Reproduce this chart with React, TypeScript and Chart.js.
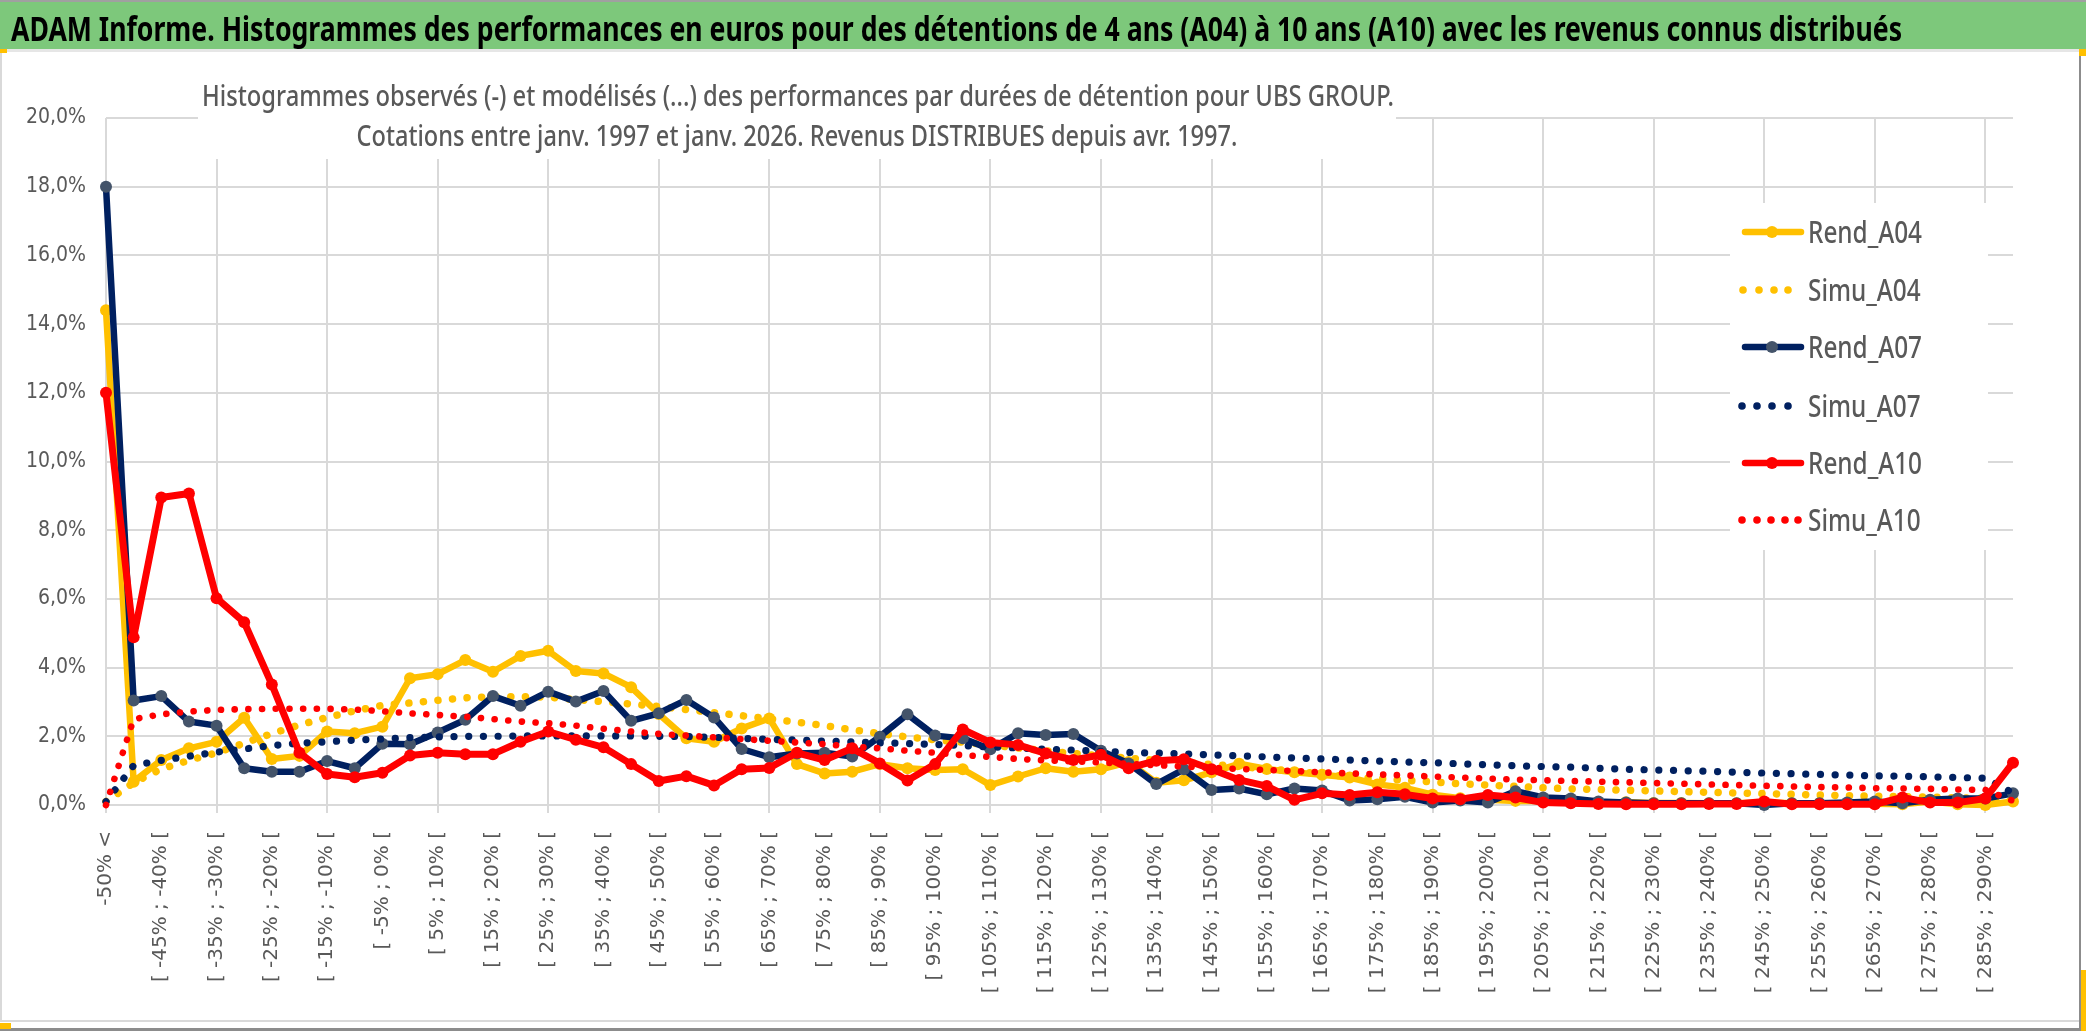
import { useEffect, useRef } from 'react';
import { Chart, registerables } from 'chart.js';

Chart.register(...registerables);

const W = 2086;
const H = 1031;

const headerTitle =
  'ADAM Informe. Histogrammes des performances en euros pour des détentions de 4 ans (A04) à 10 ans (A10) avec les revenus connus distribués';
const subtitle1 =
  'Histogrammes observés (-) et modélisés (...) des performances par durées de détention pour UBS GROUP.';
const subtitle2 =
  'Cotations entre janv. 1997 et janv. 2026. Revenus DISTRIBUES depuis avr. 1997.';

const categories = [
  '-50% <', '[ -50% ; -45% [', '[ -45% ; -40% [', '[ -40% ; -35% [', '[ -35% ; -30% [',
  '[ -30% ; -25% [', '[ -25% ; -20% [', '[ -20% ; -15% [', '[ -15% ; -10% [', '[ -10% ; -5% [',
  '[ -5% ; 0% [', '[ 0% ; 5% [', '[ 5% ; 10% [', '[ 10% ; 15% [', '[ 15% ; 20% [',
  '[ 20% ; 25% [', '[ 25% ; 30% [', '[ 30% ; 35% [', '[ 35% ; 40% [', '[ 40% ; 45% [',
  '[ 45% ; 50% [', '[ 50% ; 55% [', '[ 55% ; 60% [', '[ 60% ; 65% [', '[ 65% ; 70% [',
  '[ 70% ; 75% [', '[ 75% ; 80% [', '[ 80% ; 85% [', '[ 85% ; 90% [', '[ 90% ; 95% [',
  '[ 95% ; 100% [', '[ 100% ; 105% [', '[ 105% ; 110% [', '[ 110% ; 115% [', '[ 115% ; 120% [',
  '[ 120% ; 125% [', '[ 125% ; 130% [', '[ 130% ; 135% [', '[ 135% ; 140% [', '[ 140% ; 145% [',
  '[ 145% ; 150% [', '[ 150% ; 155% [', '[ 155% ; 160% [', '[ 160% ; 165% [', '[ 165% ; 170% [',
  '[ 170% ; 175% [', '[ 175% ; 180% [', '[ 180% ; 185% [', '[ 185% ; 190% [', '[ 190% ; 195% [',
  '[ 195% ; 200% [', '[ 200% ; 205% [', '[ 205% ; 210% [', '[ 210% ; 215% [', '[ 215% ; 220% [',
  '[ 220% ; 225% [', '[ 225% ; 230% [', '[ 230% ; 235% [', '[ 235% ; 240% [', '[ 240% ; 245% [',
  '[ 245% ; 250% [', '[ 250% ; 255% [', '[ 255% ; 260% [', '[ 260% ; 265% [', '[ 265% ; 270% [',
  '[ 270% ; 275% [', '[ 275% ; 280% [', '[ 280% ; 285% [', '[ 285% ; 290% [', '[ 290% ; 295% [',
];

const rendA04 = [
  14.4, 0.68, 1.31, 1.65, 1.84, 2.54, 1.34, 1.43, 2.14, 2.09,
  2.28, 3.69, 3.81, 4.22, 3.88, 4.34, 4.49, 3.9, 3.83, 3.43,
  2.65, 1.94, 1.84, 2.23, 2.52, 1.19, 0.92, 0.97, 1.19, 1.07,
  1.02, 1.04, 0.58, 0.83, 1.07, 0.97, 1.04, 1.25, 0.65, 0.72,
  0.95, 1.2, 1.05, 0.95, 0.88, 0.8, 0.6, 0.5, 0.3, 0.2,
  0.15, 0.12, 0.12, 0.1, 0.08, 0.08, 0.06, 0.06, 0.05, 0.05,
  0.08, 0.05, 0.05, 0.04, 0.04, 0.02, 0.1, 0.02, 0.0, 0.1,
];

const simuA04 = [
  0.1, 0.65, 1.05, 1.3, 1.52, 1.8, 2.08, 2.33, 2.55, 2.74,
  2.9, 2.97, 3.05, 3.12, 3.15, 3.15, 3.14, 3.07, 3.01, 2.94,
  2.87, 2.78, 2.69, 2.6, 2.51, 2.41, 2.31, 2.19, 2.08, 1.98,
  1.9, 1.83, 1.75, 1.66, 1.58, 1.5, 1.43, 1.36, 1.3, 1.24,
  1.18, 1.12, 1.05, 0.99, 0.9, 0.82, 0.77, 0.72, 0.67, 0.62,
  0.58, 0.54, 0.5, 0.47, 0.45, 0.43, 0.41, 0.39, 0.37, 0.35,
  0.33, 0.31, 0.29, 0.27, 0.26, 0.24, 0.23, 0.21, 0.2, 0.1,
];

const rendA07 = [
  18.0, 3.04, 3.17, 2.43, 2.31, 1.07, 0.97, 0.97, 1.28, 1.07,
  1.78, 1.77, 2.11, 2.48, 3.17, 2.89, 3.3, 3.01, 3.32, 2.45,
  2.67, 3.06, 2.55, 1.63, 1.39, 1.5, 1.52, 1.41, 1.99, 2.64,
  2.02, 1.94, 1.62, 2.09, 2.04, 2.07, 1.58, 1.21, 0.61, 1.04,
  0.44, 0.48, 0.31, 0.48, 0.42, 0.13, 0.17, 0.24, 0.07, 0.13,
  0.07, 0.4, 0.22, 0.19, 0.1, 0.07, 0.05, 0.05, 0.05, 0.05,
  0.0, 0.05, 0.05, 0.07, 0.1, 0.05, 0.15, 0.19, 0.19, 0.34,
];

const simuA07 = [
  0.1, 1.15, 1.3, 1.42, 1.54, 1.63, 1.73, 1.8, 1.84, 1.89,
  1.92, 1.96, 1.98, 2.0, 2.0, 2.01, 2.01, 2.01, 2.01, 2.01,
  2.0, 1.99, 1.97, 1.94, 1.91, 1.89, 1.86, 1.84, 1.81, 1.79,
  1.76, 1.73, 1.69, 1.66, 1.62, 1.6, 1.56, 1.53, 1.51, 1.49,
  1.46, 1.43, 1.4, 1.37, 1.34, 1.31, 1.28, 1.25, 1.23, 1.2,
  1.17, 1.14, 1.12, 1.1, 1.07, 1.04, 1.02, 1.0, 0.98, 0.95,
  0.93, 0.91, 0.89, 0.87, 0.85, 0.84, 0.82, 0.8, 0.78, 0.35,
];

const rendA10 = [
  12.0, 4.88, 8.95, 9.07, 6.02, 5.32, 3.51, 1.52, 0.9, 0.81,
  0.94, 1.44, 1.52, 1.48, 1.48, 1.84, 2.14, 1.9, 1.68, 1.19,
  0.7, 0.84, 0.57, 1.04, 1.08, 1.52, 1.31, 1.65, 1.21, 0.71,
  1.19, 2.2, 1.82, 1.75, 1.5, 1.31, 1.46, 1.07, 1.29, 1.33,
  1.04, 0.73, 0.55, 0.15, 0.34, 0.29, 0.37, 0.31, 0.19, 0.17,
  0.29, 0.22, 0.07, 0.05, 0.03, 0.02, 0.02, 0.02, 0.03, 0.03,
  0.1, 0.02, 0.02, 0.02, 0.02, 0.22, 0.07, 0.07, 0.19, 1.23,
];

const simuA10 = [
  0.0, 2.5, 2.64, 2.72, 2.77, 2.79, 2.8, 2.8, 2.8, 2.78,
  2.73, 2.67, 2.62, 2.57, 2.5, 2.43, 2.38, 2.31, 2.22, 2.14,
  2.07, 2.02, 1.97, 1.92, 1.87, 1.82, 1.77, 1.7, 1.65, 1.58,
  1.52, 1.45, 1.4, 1.34, 1.3, 1.27, 1.24, 1.2, 1.16, 1.12,
  1.08, 1.05, 1.02, 0.99, 0.95, 0.92, 0.89, 0.86, 0.83, 0.8,
  0.77, 0.74, 0.72, 0.7, 0.68, 0.66, 0.64, 0.62, 0.6, 0.58,
  0.56, 0.54, 0.52, 0.51, 0.49, 0.48, 0.47, 0.45, 0.44, 0.12,
];

const seriesNames = ['Rend_A04', 'Simu_A04', 'Rend_A07', 'Simu_A07', 'Rend_A10', 'Simu_A10'];

const YELLOW = '#FFC000';
const NAVY = '#002060';
const NAVY_MARK = '#44546A';
const RED = '#FF0000';
const GRID = '#D9D9D9';
const TEXT = '#595959';

function fitText(
  ctx: CanvasRenderingContext2D,
  text: string,
  x: number,
  y: number,
  targetW: number,
  font: string,
  color: string,
  align: CanvasTextAlign,
) {
  ctx.save();
  ctx.font = font;
  ctx.fillStyle = color;
  ctx.textBaseline = 'alphabetic';
  ctx.textAlign = align;
  const w = ctx.measureText(text).width;
  const s = targetW / w;
  ctx.translate(x, y);
  ctx.scale(s, 1);
  ctx.fillText(text, 0, 0);
  ctx.restore();
}

const decorPlugin = {
  id: 'decor',
  beforeDraw(chart: any) {
    const ctx: CanvasRenderingContext2D = chart.ctx;
    ctx.save();
    ctx.fillStyle = '#FFFFFF';
    ctx.fillRect(0, 0, W, H);
    // header band
    ctx.fillStyle = '#7DC87B';
    ctx.fillRect(0, 0, W, 49);
    ctx.fillStyle = '#A0A0A0';
    ctx.fillRect(0, 0, W, 2);
    ctx.fillStyle = '#E6E6E6';
    ctx.fillRect(0, 49, W, 3);
    ctx.restore();
    fitText(ctx, headerTitle, 11, 41, 1891, 'bold 34px "Noto Sans", "DejaVu Sans", sans-serif', '#000000', 'left');
    // frame
    ctx.save();
    ctx.fillStyle = '#D9D9D9';
    ctx.fillRect(0, 52, 2, 970);
    ctx.fillRect(0, 1020, 2080, 2);
    ctx.fillStyle = '#8C8C8C';
    ctx.fillRect(2079, 52, 2, 979);
    ctx.fillRect(0, 1028, W, 3);
    ctx.fillStyle = YELLOW;
    ctx.fillRect(0, 49, 7, 4);
    ctx.fillRect(2079, 49, 7, 7);
    ctx.fillRect(0, 1023, 11, 6);
    ctx.fillRect(2081, 970, 5, 61);
    ctx.restore();
  },
  beforeDatasetsDraw(chart: any) {
    const ctx: CanvasRenderingContext2D = chart.ctx;
    ctx.save();
    ctx.fillStyle = '#FFFFFF';
    ctx.fillRect(198, 60, 1198, 99);
    ctx.fillRect(1730, 203, 258, 347);
    ctx.restore();
    const subFont = '500 28px "Noto Sans", "DejaVu Sans", sans-serif';
    fitText(ctx, subtitle1, 798, 106, 1192, subFont, TEXT, 'center');
    fitText(ctx, subtitle2, 797, 146, 881, subFont, TEXT, 'center');

    // legend
    const items = [
      { name: seriesNames[0], color: YELLOW, mark: YELLOW, dots: null as number[] | null },
      { name: seriesNames[1], color: YELLOW, mark: null, dots: [1743, 1759, 1774, 1788] },
      { name: seriesNames[2], color: NAVY, mark: NAVY_MARK, dots: null },
      { name: seriesNames[3], color: NAVY, mark: null, dots: [1742, 1757, 1772, 1788] },
      { name: seriesNames[4], color: RED, mark: RED, dots: null },
      { name: seriesNames[5], color: RED, mark: null, dots: [1742, 1757, 1771, 1785, 1798] },
    ];
    const ys = [232, 290, 347, 406, 463, 520];
    const legFont = '500 31px "Noto Sans", "DejaVu Sans", sans-serif';
    ctx.save();
    ctx.font = legFont;
    const refW = ctx.measureText('Rend_A04').width;
    ctx.restore();
    const sx = 114 / refW;
    items.forEach((it, i) => {
      const y = ys[i];
      ctx.save();
      if (it.dots) {
        ctx.fillStyle = it.color;
        it.dots.forEach((dx) => {
          ctx.beginPath();
          ctx.arc(dx, y, 3.8, 0, Math.PI * 2);
          ctx.fill();
        });
      } else {
        ctx.strokeStyle = it.color;
        ctx.lineWidth = 6.5;
        ctx.lineCap = 'round';
        ctx.beginPath();
        ctx.moveTo(1745, y);
        ctx.lineTo(1801, y);
        ctx.stroke();
        ctx.fillStyle = it.mark as string;
        ctx.beginPath();
        ctx.arc(1772, y, 6, 0, Math.PI * 2);
        ctx.fill();
      }
      ctx.font = legFont;
      ctx.fillStyle = TEXT;
      ctx.textAlign = 'left';
      ctx.textBaseline = 'alphabetic';
      ctx.translate(1808, y + 11);
      ctx.scale(sx, 1);
      ctx.fillText(it.name, 0, 0);
      ctx.restore();
    });
  },
};

export default function App() {
  const ref = useRef<HTMLCanvasElement>(null);

  useEffect(() => {
    if (!ref.current) return;
    const rend = (label: string, data: number[], color: string, mark: string, order: number, width: number) => ({
      label,
      data,
      borderColor: color,
      backgroundColor: mark,
      borderWidth: width,
      borderJoinStyle: 'round' as const,
      borderCapStyle: 'round' as const,
      pointRadius: 6,
      pointBackgroundColor: mark,
      pointBorderWidth: 0,
      pointBorderColor: mark,
      tension: 0,
      clip: false as const,
      order,
    });
    const simu = (label: string, data: number[], color: string, order: number, width: number, gap: number) => ({
      label,
      data,
      borderColor: color,
      backgroundColor: color,
      borderWidth: width,
      borderDash: [0.1, gap],
      borderCapStyle: 'round' as const,
      pointRadius: 0,
      tension: 0,
      clip: false as const,
      order,
    });

    const chart = new Chart(ref.current, {
      type: 'line',
      data: {
        labels: categories,
        datasets: [
          rend(seriesNames[0], rendA04, YELLOW, YELLOW, 5, 6.5),
          simu(seriesNames[1], simuA04, YELLOW, 4, 7.5, 14.5),
          rend(seriesNames[2], rendA07, NAVY, NAVY_MARK, 3, 6.5),
          simu(seriesNames[3], simuA07, NAVY, 2, 7.2, 14.6),
          rend(seriesNames[4], rendA10, RED, RED, 1, 7),
          simu(seriesNames[5], simuA10, RED, 0, 6.6, 13.6),
        ] as any,
      },
      options: {
        animation: false,
        responsive: false,
        devicePixelRatio: 1,
        layout: { padding: { top: 118, right: 73, left: 0, bottom: 0 } },
        plugins: {
          legend: { display: false },
          title: { display: false },
          tooltip: { enabled: false },
        },
        scales: {
          x: {
            type: 'category',
            offset: false,
            grid: {
              color: (c: any) => (c.index % 4 === 0 ? GRID : 'rgba(0,0,0,0)'),
              lineWidth: 2,
              tickLength: 8,
              drawTicks: true,
            },
            border: { display: false },
            ticks: {
              autoSkip: false,
              maxRotation: 90,
              minRotation: 90,
              padding: 18,
              color: TEXT,
              font: { family: '"DejaVu Sans", Verdana, sans-serif', size: 20 },
              callback: (_v: any, i: number) => (i % 2 === 0 ? categories[i] : ''),
            },
            afterFit: (s: any) => {
              s.height = 226;
            },
          },
          y: {
            min: 0,
            max: 20,
            ticks: {
              stepSize: 2,
              padding: 20,
              color: TEXT,
              font: { family: '"Liberation Sans Narrow", "DejaVu Sans Condensed", "Liberation Sans", sans-serif', size: 21 },
              callback: (v: any) => Number(v).toFixed(1).replace('.', ',') + '%',
            },
            grid: { color: GRID, lineWidth: 2, drawTicks: false },
            border: { display: false },
            afterFit: (s: any) => {
              s.width = 106;
            },
          },
        },
      } as any,
      plugins: [decorPlugin],
    });
    return () => chart.destroy();
  }, []);

  return (
    <div style={{ position: 'absolute', left: 0, top: 0, width: W, height: H, background: '#fff', overflow: 'hidden' }}>
      <canvas ref={ref} width={W} height={H} style={{ display: 'block', width: W, height: H }} />
    </div>
  );
}
